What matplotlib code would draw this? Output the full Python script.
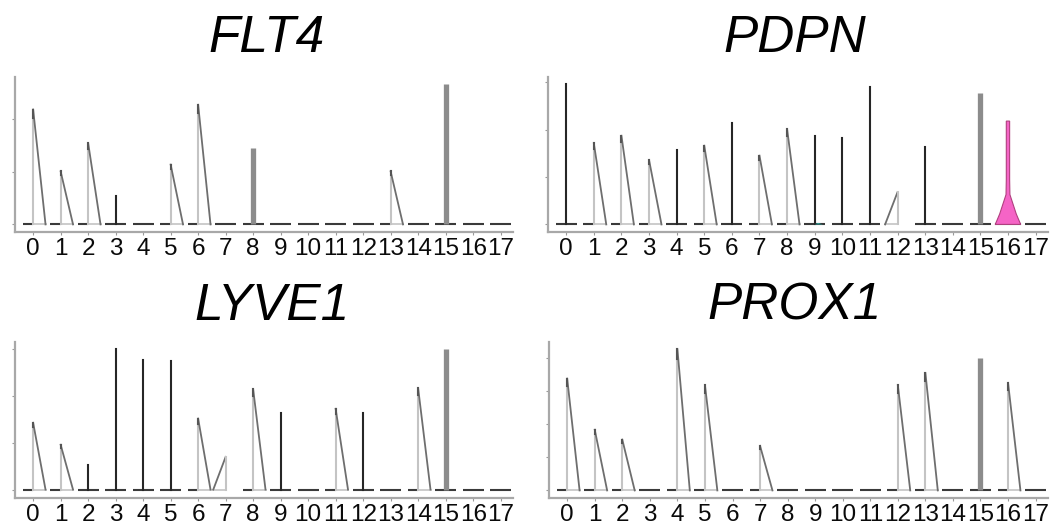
import matplotlib
matplotlib.use("Agg")
import matplotlib.pyplot as plt

clusters = [str(i) for i in range(18)]

genes = ["FLT4", "PDPN", "LYVE1", "PROX1"]

# max expression per cluster (0 = all zero)
flt4_max = [2.19, 1.01, 1.55, 0.54, 0, 1.14, 2.28, 0, 1.45, 0, 0, 0, 0, 1.01, 0, 2.67, 0, 0]
flt4_kind = ["tri", "tri", "tri", "spike", "flat", "tri", "tri", "flat", "thick", "flat",
             "flat", "flat", "flat", "tri", "flat", "thick", "flat", "flat"]

pdpn_max = [2.96, 1.71, 1.87, 1.36, 1.57, 1.66, 2.15, 1.45, 2.01, 1.87, 1.82, 2.90, 0.68, 1.63, 0, 2.78, 2.18, 0]
pdpn_kind = ["spike", "tri", "tri", "tri", "spike", "tri", "spike", "tri", "tri", "spike",
             "spike", "spike", "rtri", "spike", "flat", "thick", "violin", "flat"]

lyve1_max = [1.43, 0.96, 0.53, 3.00, 2.78, 2.75, 1.52, 0.70, 2.15, 1.64, 0, 1.73, 1.65, 0, 2.17, 3.01, 0, 0]
lyve1_kind = ["tri", "tri", "spike", "spike", "spike", "spike", "tri", "rtri", "tri", "spike",
              "flat", "tri", "spike", "flat", "tri", "thick", "flat", "flat"]

prox1_max = [3.39, 1.84, 1.54, 0, 4.28, 3.19, 0, 1.35, 0, 0, 0, 0, 3.19, 3.56, 0, 4.00, 3.26, 0]
prox1_kind = ["tri", "tri", "tri", "flat", "tri", "tri", "flat", "tri", "flat", "flat",
              "flat", "flat", "tri", "tri", "flat", "thick", "tri", "flat"]

pdpn_violin_neck = 0.63  # height where the cluster-16 violin narrows

gene_max = [flt4_max, pdpn_max, lyve1_max, prox1_max]
gene_kind = [flt4_kind, pdpn_kind, lyve1_kind, prox1_kind]
yticks = [[0, 1, 2], [0, 1, 2, 3], [0, 1, 2, 3], [0, 1, 2, 3, 4]]
ylims = [(-0.145, 2.81), (-0.16, 3.11), (-0.18, 3.16), (-0.23, 4.5)]

W, H = 1059, 527
fig = plt.figure(figsize=(W / 100, H / 100), dpi=100)

# axes boxes in pixels: left, right, top, bottom
boxes = [(15, 513, 77, 232), (548, 1048, 77, 232), (15, 513, 342, 498), (549, 1048, 342, 498)]
title_pos = [(267, 39), (795, 39), (272, 306), (795, 306)]

DARK = "#3a3a3a"
MID = "#6e6e6e"
LIGHT = "#c4c4c4"

for g, (l, r, t, b) in enumerate(boxes):
    ax = fig.add_axes([l / W, 1 - b / H, (r - l) / W, (b - t) / H])
    vals = gene_max[g]
    kinds = gene_kind[g]
    for i, (h, k) in enumerate(zip(vals, kinds)):
        if k == "flat":
            ax.plot([i - 0.38, i + 0.38], [0, 0], color=DARK, lw=1.5, solid_capstyle="butt")
        elif k == "spike":
            ax.plot([i - 0.38, i + 0.38], [0, 0], color=DARK, lw=1.5, solid_capstyle="butt")
            ax.plot([i, i], [0, h], color="#262626", lw=1.5)
        elif k == "thick":
            ax.plot([i - 0.38, i + 0.38], [0, 0], color=DARK, lw=1.5, solid_capstyle="butt")
            ax.plot([i, i], [0, h], color="#8c8c8c", lw=3.8, solid_capstyle="butt")
        elif k == "tri":
            ax.plot([i - 0.38, i], [0, 0], color=DARK, lw=1.5, solid_capstyle="butt")
            ax.plot([i, i + 0.45], [0, 0], color=LIGHT, lw=1.2)
            ax.plot([i, i], [0, h], color=LIGHT, lw=1.5)
            ax.plot([i, i + 0.45], [h, 0], color=MID, lw=1.3)
            ax.plot([i, i], [h * 0.93, h], color="#555555", lw=1.5)
        elif k == "rtri":
            ax.plot([i - 0.45, i], [0, 0], color=LIGHT, lw=1.2)
            ax.plot([i - 0.45, i], [0, h], color=MID, lw=1.3)
            ax.plot([i, i], [0, h], color=LIGHT, lw=1.5)
        elif k == "violin":
            ax.plot([i - 0.45, i + 0.45], [0, 0], color=DARK, lw=1.5)
            n = pdpn_violin_neck
            xs = [i - 0.46, i - 0.3, i - 0.07, i - 0.06, i - 0.06, i + 0.06, i + 0.06, i + 0.07, i + 0.3, i + 0.46]
            ys = [0, n * 0.35, n, n * 1.5, h, h, n * 1.5, n, n * 0.35, 0]
            ax.fill(xs, ys, facecolor="#f564c6", edgecolor="#b0407f", lw=0.8, zorder=3)
    if g == 1:
        # tiny teal blip in cluster 9
        ax.fill([9, 9.12, 9.3], [0, 0.03, 0], facecolor="#2aa6a0", edgecolor="none", zorder=3)

    ax.set_xlim(-0.66, 17.45)
    ax.set_ylim(*ylims[g])
    ax.set_xticks(range(18))
    ax.set_xticklabels(clusters, fontsize=17.5, family="Liberation Sans", color="#0a0a0a")
    ax.set_yticks(yticks[g])
    ax.set_yticklabels([])
    for s in ("top", "right"):
        ax.spines[s].set_visible(False)
    for s in ("left", "bottom"):
        ax.spines[s].set_color("#a8a8a8")
        ax.spines[s].set_linewidth(1.6)
    ax.tick_params(axis="both", length=2.5, width=0.8, color="#999999")
    ax.tick_params(axis="x", pad=1.5)

    tx, ty = title_pos[g]
    fig.text(tx / W, 1 - ty / H, genes[g], ha="center", va="center", fontsize=37,
             style="italic", family="Liberation Sans", color="black")

fig.savefig("out.png", dpi=100)
